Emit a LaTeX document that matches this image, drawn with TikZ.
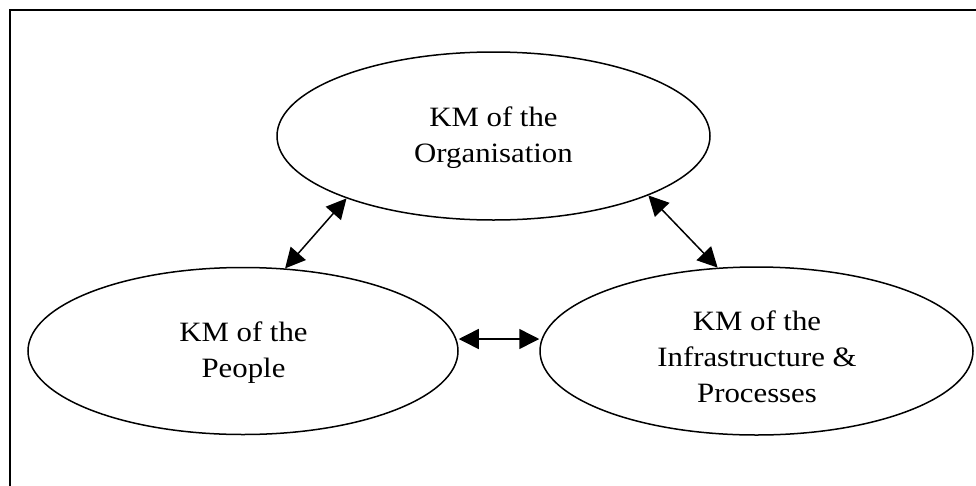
\documentclass[tikz,border=0pt]{standalone}
\usepackage{fontspec}
\setmainfont{Liberation Serif}[FakeStretch=1.1]
\usetikzlibrary{arrows.meta,shapes.geometric}

\begin{document}
\begin{tikzpicture}[x=1pt,y=-1pt,
  bubble/.style={ellipse, draw, line width=1.5pt, inner sep=0pt,
                 minimum width=433pt, minimum height=168pt},
  caption/.style={align=center, font=\fontsize{28}{36}\selectfont,
                  anchor=base, inner sep=0pt},
  link/.style={{Triangle[length=20pt,width=20pt]}-{Triangle[length=20pt,width=20pt]},
               line width=1.5pt}]
\useasboundingbox (0,0) rectangle (976,485);
\clip (0,0) rectangle (976,485);

% surrounding frame (runs off the right and bottom edges)
\draw[line width=2pt] (10,10) rectangle (1100,600);

% the three areas of knowledge management
\node[bubble] (org)    at (493.5,136) {};
\node[bubble, minimum width=430pt, minimum height=167pt] (people) at (243,351) {};
\node[bubble] (infra)  at (756.5,351) {};

% captions, placed by the baseline of their last line
\node[caption] (orgtext)    at (493.5,162) {KM of the\\Organisation};
\node[caption] (peopletext) at (243.5,377) {KM of the\\People};
\node[caption] (infratext)  at (757,402)   {KM of the\\Infrastructure \&\\Processes};

% two-way links between them
\draw[link] (people.63.4) -- (org.203.5);
\draw[link] (org.339)     -- (infra.115.5);
\draw[link] ([yshift=12pt]people.east) -- ([yshift=12pt]infra.west);
\end{tikzpicture}
\end{document}
